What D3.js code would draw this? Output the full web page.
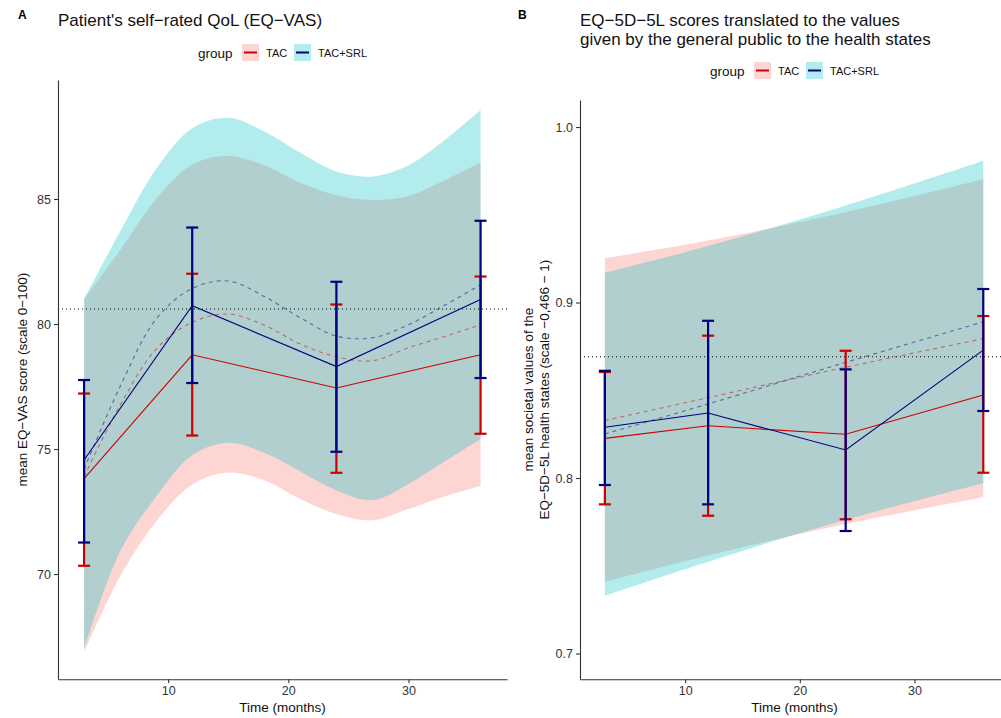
<!DOCTYPE html>
<html>
<head>
<meta charset="utf-8">
<script src="https://cdn.jsdelivr.net/npm/d3@7"></script>
<style>
  body { margin: 0; background: #fff; }
  svg { display: block; font-family: "Liberation Sans", Arial, Helvetica, sans-serif; }
</style>
</head>
<body>
<div id="chart"></div>
<script>
// measurement months
const months = [3, 12, 24, 36];
const groups = ["TAC", "TAC+SRL"];

// Panel A: EQ-VAS means and error bars
const vasMeanTAC = [73.82, 78.77, 77.44, 78.77];
const vasLowTAC = [70.33, 75.54, 74.05, 75.61];
const vasHighTAC = [77.22, 82.01, 80.78, 81.9];
const vasMeanSRL = [74.56, 80.73, 78.3, 80.98];
const vasLowSRL = [71.26, 77.64, 74.89, 77.84];
const vasHighSRL = [77.76, 83.86, 81.69, 84.13];

// Panel A: model fit (dashed) and its band
const fitMonths = [3, 6, 9, 12, 15, 18, 21, 24, 27, 30, 33, 36];
const vasFitTAC = [73.9, 76.75, 79.0, 80.07, 80.4, 79.95, 79.2, 78.69, 78.53, 79.05, 79.5, 79.97];
const vasFitSRL = [74.2, 77.5, 80.2, 81.42, 81.72, 81.1, 80.25, 79.52, 79.45, 79.97, 80.75, 81.57];
const vasBandLowTAC = [66.87, 69.9, 72.1, 73.58, 74.06, 73.75, 73.0, 72.4, 72.15, 72.6, 73.1, 73.53];
const vasBandHighTAC = [81.0, 82.95, 85.0, 86.38, 86.72, 86.35, 85.65, 85.15, 84.96, 85.12, 85.75, 86.46];
const vasBandLowSRL = [67.0, 70.9, 73.1, 74.75, 75.25, 74.85, 74.1, 73.35, 72.95, 73.6, 74.5, 75.4];
const vasBandHighSRL = [81.0, 83.7, 86.2, 87.83, 88.25, 87.7, 86.85, 86.1, 85.9, 86.35, 87.35, 88.56];
const vasReference = 80.6;

// Panel B: EQ-5D-5L societal values
const eqMeanTAC = [0.8226, 0.8298, 0.8249, 0.8473];
const eqLowTAC = [0.785, 0.7785, 0.7765, 0.803];
const eqHighTAC = [0.8604, 0.8811, 0.8725, 0.8923];
const eqMeanSRL = [0.8289, 0.837, 0.816, 0.8729];
const eqLowSRL = [0.796, 0.785, 0.7698, 0.8382];
const eqHighSRL = [0.8611, 0.8896, 0.8619, 0.9077];
const eqFitTAC = [0.8327, 0.8458, 0.8631, 0.8794];
const eqFitSRL = [0.8251, 0.8422, 0.8659, 0.889];
const eqBandLowTAC = [0.7409, 0.7559, 0.7738, 0.789];
const eqBandHighTAC = [0.9252, 0.9353, 0.9515, 0.9702];
const eqBandLowSRL = [0.7329, 0.7523, 0.7762, 0.797];
const eqBandHighSRL = [0.917, 0.9322, 0.9553, 0.9808];
const eqReference = 0.8691;

const xTicks = [10, 20, 30];
const vasTicks = [70, 75, 80, 85];
const eqTicks = [0.7, 0.8, 0.9, 1.0];

const lineColor = { "TAC": "#cd0000", "TAC+SRL": "#000080" };
const bandColor = { "TAC": "#f8766d", "TAC+SRL": "#00bfc4" };

const svg = d3.select("#chart")
  .append("svg")
  .attr("width", 1001)
  .attr("height", 718);

function drawPanel(p) {
  const x = d3.scaleLinear().domain([0.83, 38.2]).range([p.left, p.right]);
  const y = d3.scaleLinear().domain(p.yDomain).range([679.3, p.top]);
  const g = svg.append("g");

  // tag letter and title
  g.append("text")
    .attr("x", p.tagX).attr("y", 19)
    .style("font-weight", "bold").style("font-size", "12px")
    .text(p.tag);
  p.title.forEach((t, i) => {
    g.append("text")
      .attr("x", p.left).attr("y", 26 + i * 18.5)
      .style("font-size", "17px").attr("fill", "#111")
      .text(t);
  });

  // legend
  const lg = g.append("g").attr("transform", `translate(${p.legendX},${p.legendY})`);
  lg.append("text").attr("x", 0).attr("y", 5).style("font-size", "13.5px").attr("fill", "#111").text("group");
  const keyX = [44, 96];
  const textX = [68, 120];
  groups.forEach((grp, i) => {
    lg.append("rect")
      .attr("x", keyX[i]).attr("y", -8.5).attr("width", 17).attr("height", 17)
      .attr("fill", bandColor[grp]).attr("fill-opacity", 0.3);
    lg.append("line")
      .attr("x1", keyX[i] + 2).attr("x2", keyX[i] + 15)
      .attr("y1", 0).attr("y2", 0)
      .attr("stroke", lineColor[grp]).attr("stroke-width", 2);
    lg.append("text").attr("x", textX[i]).attr("y", 4)
      .style("font-size", "11px").attr("fill", "#111").text(grp);
  });

  // ribbons
  const area = d3.area()
    .x((d) => x(d.m))
    .y0((d) => y(d.lo))
    .y1((d) => y(d.hi))
    .curve(d3.curveCatmullRom.alpha(0.5));
  groups.forEach((grp, gi) => {
    const band = p.bandMonths.map((m, i) => ({ m: m, lo: p.bandLow[gi][i], hi: p.bandHigh[gi][i] }));
    g.append("path")
      .attr("d", area(band))
      .attr("fill", bandColor[grp])
      .attr("fill-opacity", 0.3);
  });

  // reference line
  g.append("line")
    .attr("x1", p.left).attr("x2", p.right)
    .attr("y1", y(p.reference)).attr("y2", y(p.reference))
    .attr("stroke", "#000").attr("stroke-width", 1)
    .attr("stroke-dasharray", "1,3");

  // fitted trend lines
  const line = d3.line().x((d) => x(d.m)).y((d) => y(d.v)).curve(d3.curveCatmullRom.alpha(0.5));
  groups.forEach((grp, gi) => {
    g.append("path")
      .attr("d", line(p.fitMonths.map((m, i) => ({ m: m, v: p.fit[gi][i] }))))
      .attr("fill", "none")
      .attr("stroke", lineColor[grp]).attr("stroke-opacity", 0.5)
      .attr("stroke-width", 1.1)
      .attr("stroke-dasharray", "4,4");
  });

  // observed means
  const meanLine = d3.line().x((d) => x(d.m)).y((d) => y(d.v));
  groups.forEach((grp, gi) => {
    g.append("path")
      .attr("d", meanLine(months.map((m, i) => ({ m: m, v: p.mean[gi][i] }))))
      .attr("fill", "none")
      .attr("stroke", lineColor[grp])
      .attr("stroke-width", 1.1);
  });

  // error bars
  groups.forEach((grp, gi) => {
    const eb = g.append("g").attr("stroke", lineColor[grp]).attr("stroke-width", 2.2);
    months.forEach((m, i) => {
      const cx = x(m);
      const lo = y(p.low[gi][i]);
      const hi = y(p.high[gi][i]);
      eb.append("line").attr("x1", cx).attr("x2", cx).attr("y1", lo).attr("y2", hi);
      eb.append("line").attr("x1", cx - 6).attr("x2", cx + 6).attr("y1", lo).attr("y2", lo);
      eb.append("line").attr("x1", cx - 6).attr("x2", cx + 6).attr("y1", hi).attr("y2", hi);
    });
  });

  // axes
  const xAxis = g.append("g")
    .attr("transform", "translate(0,679.3)")
    .call(d3.axisBottom(x).tickValues(xTicks).tickSize(4).tickPadding(3).tickSizeOuter(0));
  const yAxis = g.append("g")
    .attr("transform", `translate(${p.left},0)`)
    .call(d3.axisLeft(y).tickValues(p.yTicks).tickFormat(p.yFormat).tickSize(4).tickPadding(3).tickSizeOuter(0));
  [xAxis, yAxis].forEach((a) => {
    a.select(".domain").attr("stroke", "#333").attr("stroke-width", 1.1);
    a.selectAll(".tick line").attr("stroke", "#333").attr("stroke-width", 1.1);
    a.selectAll(".tick text").attr("fill", "#333").style("font-size", "12.5px").style("font-family", "Liberation Sans, Arial, sans-serif");
  });

  g.append("text")
    .attr("x", (p.left + Math.min(p.right, 1001)) / 2 + p.xTitleShift).attr("y", 712)
    .attr("text-anchor", "middle").style("font-size", "13.5px").attr("fill", "#111")
    .text("Time (months)");

  p.yTitle.forEach((t, i) => {
    g.append("text")
      .attr("transform", `translate(${p.yTitleX + i * 16},${(p.top + 679.3) / 2}) rotate(-90)`)
      .attr("text-anchor", "middle").style("font-size", "13.5px").attr("fill", "#111")
      .text(t);
  });
}

drawPanel({
  tag: "A", tagX: 18,
  title: ["Patient's self\u2212rated QoL (EQ\u2212VAS)"],
  legendX: 198, legendY: 52.5,
  left: 58, right: 507, top: 80,
  yDomain: [65.79, 89.76], yTicks: vasTicks, yFormat: d3.format("d"),
  yTitle: ["mean EQ\u2212VAS score (scale 0\u2212100)"], yTitleX: 27,
  xTitleShift: 0,
  mean: [vasMeanTAC, vasMeanSRL], low: [vasLowTAC, vasLowSRL], high: [vasHighTAC, vasHighSRL],
  fitMonths: fitMonths, fit: [vasFitTAC, vasFitSRL],
  bandMonths: fitMonths, bandLow: [vasBandLowTAC, vasBandLowSRL], bandHigh: [vasBandHighTAC, vasBandHighSRL],
  reference: vasReference
});

drawPanel({
  tag: "B", tagX: 518,
  title: ["EQ\u22125D\u22125L scores translated to the values", "given by the general public to the health states"],
  legendX: 710, legendY: 70.5,
  left: 580, right: 1008.5, top: 100,
  yDomain: [0.6853, 1.0154], yTicks: eqTicks, yFormat: d3.format(".1f"),
  yTitle: ["mean societal values of the", "EQ\u22125D\u22125L health states (scale \u22120,466 \u2212 1)"], yTitleX: 533,
  xTitleShift: 4,
  mean: [eqMeanTAC, eqMeanSRL], low: [eqLowTAC, eqLowSRL], high: [eqHighTAC, eqHighSRL],
  fitMonths: months, fit: [eqFitTAC, eqFitSRL],
  bandMonths: months, bandLow: [eqBandLowTAC, eqBandLowSRL], bandHigh: [eqBandHighTAC, eqBandHighSRL],
  reference: eqReference
});
</script>
</body>
</html>
